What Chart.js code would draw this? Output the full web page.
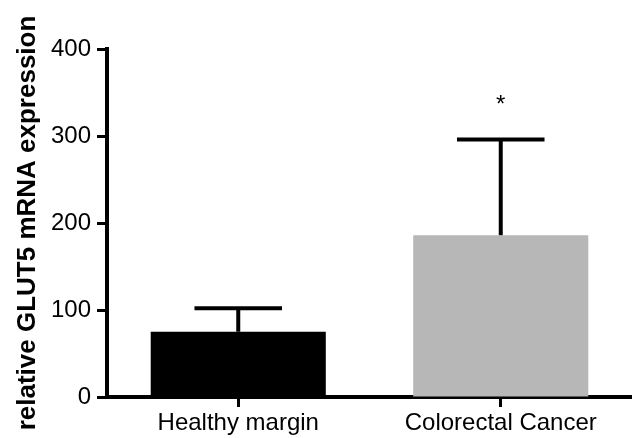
<!DOCTYPE html>
<html>
<head>
    <script src="https://cdn.jsdelivr.net/npm/chart.js@4.4.0/dist/chart.umd.min.js"></script>
    <style>
        body {
            margin: 0;
            padding: 0;
            background: white;
            overflow: hidden;
        }
        .chart-container {
            position: relative;
            width: 632px;
            height: 438px;
        }
    </style>
</head>
<body>
    <div class="chart-container">
        <canvas id="glutChart"></canvas>
    </div>

    <script>
        const categories = ['Healthy margin', 'Colorectal Cancer'];
        const means = [75, 186];
        const errors = [27, 110];
        const marks = ['', '*'];
        const barColors = ['#000000', '#b6b7b6'];
        const yTicks = [0, 100, 200, 300, 400];

        const fontFamily = 'Arial, "Liberation Sans", Helvetica, sans-serif';

        // upward-only error bars plus significance marks
        const errorBars = {
            id: 'errorBars',
            afterDatasetsDraw(chart) {
                const ctx = chart.ctx;
                const meta = chart.getDatasetMeta(0);
                const y = chart.scales.y;
                ctx.save();
                ctx.strokeStyle = '#000';
                ctx.fillStyle = '#000';
                meta.data.forEach((bar, i) => {
                    const x = bar.x;
                    const yBase = y.getPixelForValue(means[i]);
                    const yTop = y.getPixelForValue(means[i] + errors[i]);
                    const half = bar.width / 4;
                    ctx.lineWidth = 4;
                    ctx.beginPath();
                    ctx.moveTo(x, yBase);
                    ctx.lineTo(x, yTop);
                    ctx.stroke();
                    ctx.beginPath();
                    ctx.moveTo(x - half, yTop);
                    ctx.lineTo(x + half, yTop);
                    ctx.stroke();
                    if (marks[i]) {
                        ctx.font = '24px ' + fontFamily;
                        ctx.textAlign = 'center';
                        ctx.textBaseline = 'alphabetic';
                        ctx.fillText(marks[i], x, yTop - 27);
                    }
                });
                ctx.restore();
            }
        };

        const ctx = document.getElementById('glutChart').getContext('2d');
        const chart = new Chart(ctx, {
            type: 'bar',
            data: {
                labels: categories,
                datasets: [{
                    data: means,
                    backgroundColor: barColors,
                    borderWidth: 0,
                    barPercentage: 0.667,
                    categoryPercentage: 1.0
                }]
            },
            options: {
                responsive: true,
                maintainAspectRatio: false,
                animation: false,
                layout: {
                    padding: { top: 49, right: 0, bottom: 0, left: 0 }
                },
                plugins: {
                    legend: { display: false },
                    tooltip: { enabled: false }
                },
                scales: {
                    x: {
                        grid: {
                            display: true,
                            drawOnChartArea: false,
                            drawTicks: true,
                            offset: false,
                            tickLength: 10,
                            tickWidth: 3,
                            tickColor: '#000'
                        },
                        border: { display: true, color: '#000', width: 4 },
                        ticks: {
                            color: '#000',
                            padding: 2,
                            maxRotation: 0,
                            font: { family: fontFamily, size: 24 }
                        },
                        afterFit: s => { s.height = 41; }
                    },
                    y: {
                        min: 0,
                        max: 400,
                        afterBuildTicks: s => { s.ticks = yTicks.map(v => ({ value: v })); },
                        grid: {
                            display: true,
                            drawOnChartArea: false,
                            drawTicks: true,
                            tickLength: 10,
                            tickWidth: 3,
                            tickColor: '#000'
                        },
                        border: { display: true, color: '#000', width: 4 },
                        ticks: {
                            color: '#000',
                            padding: 6,
                            font: { family: fontFamily, size: 24 }
                        },
                        title: {
                            display: true,
                            text: 'relative GLUT5 mRNA expression',
                            color: '#000',
                            padding: { top: 12, bottom: 0 },
                            font: { family: fontFamily, size: 26, weight: 'bold' }
                        },
                        afterFit: s => { s.width = 107; }
                    }
                }
            },
            plugins: [errorBars]
        });
    </script>
</body>
</html>
